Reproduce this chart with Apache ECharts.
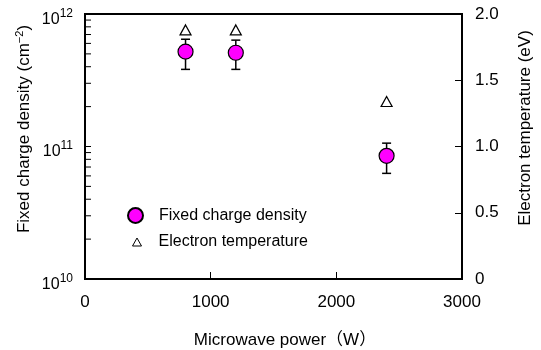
<!DOCTYPE html>
<html>
<head>
<meta charset="utf-8">
<script src="https://cdn.jsdelivr.net/npm/echarts@6/dist/echarts.min.js"></script>
<style>
  html, body { margin: 0; padding: 0; background: #fff; }
  #chart { width: 541px; height: 350px; }
</style>
</head>
<body>
<div id="chart"></div>
<script>
// data
var power = [800, 1200, 2400];                 // W
var density = [5.2e11, 5.1e11, 8.5e10];        // cm^-2
var densityHi = [6.45e11, 6.35e11, 1.06e11];
var densityLo = [3.82e11, 3.82e11, 6.27e10];
var temperature = [1.88, 1.88, 1.34];          // eV
var xTicks = [0, 1000, 2000, 3000];
var rightTicks = [0, 0.5, 1.0, 1.5, 2.0];
var logMinorTicks = [2e10, 3e10, 4e10, 5e10, 6e10, 7e10, 8e10, 9e10,
                     2e11, 3e11, 4e11, 5e11, 6e11, 7e11, 8e11, 9e11];

var font = 'Liberation Sans, Arial, Noto Sans CJK JP, sans-serif';

var densityData = power.map(function (p, i) { return [p, density[i]]; });
var errorData = power.map(function (p, i) { return [p, densityLo[i], densityHi[i]]; });
var tempData = power.map(function (p, i) { return [p, temperature[i]]; });
var minorData = logMinorTicks.map(function (v) { return [xTicks[0], v]; });

var myChart = echarts.init(document.getElementById('chart'));
myChart.setOption({
  animation: false,
  textStyle: { fontFamily: font, color: '#000' },
  grid: {
    left: 85, right: 79, top: 14, bottom: 71,
    show: true, borderColor: '#000', borderWidth: 2, backgroundColor: '#fff'
  },
  legend: [{
    data: ['Fixed charge density'],
    left: 127, top: 207, padding: 0,
    itemWidth: 15, itemHeight: 15,
    textStyle: { fontSize: 16, fontFamily: font, color: '#000', padding: [0, 0, 0, 11] }
  }, {
    data: ['Electron temperature'],
    left: 132, top: 234, padding: 0,
    itemWidth: 9, itemHeight: 8,
    itemStyle: { borderWidth: 1 },
    textStyle: { fontSize: 16, fontFamily: font, color: '#000', padding: [0, 0, 0, 12] }
  }],
  xAxis: {
    type: 'value',
    min: xTicks[0], max: xTicks[xTicks.length - 1], interval: 1000,
    axisLine: { show: false },
    axisTick: { inside: true, length: 7, lineStyle: { color: '#000', width: 1 } },
    axisLabel: {
      fontSize: 17, color: '#000', margin: 15,
      formatter: function (v) { return String(v); }
    },
    splitLine: { show: false }
  },
  yAxis: [{
    type: 'log', logBase: 10,
    min: 1e10, max: 1e12,
    axisLine: { show: false },
    axisTick: { inside: true, length: 6, lineStyle: { color: '#000', width: 1 } },
    axisLabel: {
      margin: 12, padding: [7, 0, 0, 0],
      formatter: function (v) {
        return '{b|10}{s|' + Math.round(Math.log10(v)) + '}';
      },
      rich: {
        b: { fontSize: 16, fontFamily: font, color: '#000', lineHeight: 20, verticalAlign: 'bottom' },
        s: { fontSize: 12, fontFamily: font, color: '#000', lineHeight: 20, verticalAlign: 'top', padding: [0, 0, 7, 0] }
      }
    },
    splitLine: { show: false }
  }, {
    type: 'value',
    min: rightTicks[0], max: rightTicks[rightTicks.length - 1], interval: 0.5,
    position: 'right',
    axisLine: { show: false },
    axisTick: { inside: true, length: 7, lineStyle: { color: '#000', width: 1 } },
    axisLabel: {
      fontSize: 17, color: '#000', margin: 13, padding: [7, 0, 0, 0],
      formatter: function (v) { return v === 0 ? '0' : v.toFixed(1); }
    },
    splitLine: { show: false }
  }],
  graphic: [{
    type: 'text', x: 24, y: 129, rotation: Math.PI / 2,
    style: {
      text: 'Fixed charge density (cm{s|−2})',
      font: '17px ' + font, fill: '#000', align: 'center', verticalAlign: 'middle',
      rich: { s: { fontSize: 11, fontFamily: font, fill: '#000', verticalAlign: 'top', padding: [0, 0, 8, 0] } }
    }
  }, {
    type: 'text', x: 525, y: 128, rotation: Math.PI / 2,
    style: {
      text: 'Electron temperature (eV)',
      font: '17px ' + font, fill: '#000', align: 'center', verticalAlign: 'middle'
    }
  }, {
    type: 'text', x: 285, y: 340,
    style: {
      text: 'Microwave power（W）',
      font: '17px ' + font, fill: '#000', align: 'center', verticalAlign: 'middle'
    }
  }],
  series: [{
    // minor ticks of the log axis
    type: 'custom', silent: true, xAxisIndex: 0, yAxisIndex: 0,
    data: minorData,
    renderItem: function (params, api) {
      var p = api.coord([api.value(0), api.value(1)]);
      return {
        type: 'line',
        shape: { x1: p[0], y1: p[1], x2: p[0] + 6, y2: p[1] },
        style: { stroke: '#000', lineWidth: 1 }
      };
    },
    z: 3
  }, {
    // error bars
    type: 'custom', silent: true, xAxisIndex: 0, yAxisIndex: 0,
    data: errorData,
    renderItem: function (params, api) {
      var lo = api.coord([api.value(0), api.value(1)]);
      var hi = api.coord([api.value(0), api.value(2)]);
      var w = 4.5;
      var st = { stroke: '#000', lineWidth: 1.5 };
      return {
        type: 'group',
        children: [
          { type: 'line', shape: { x1: lo[0], y1: lo[1], x2: hi[0], y2: hi[1] }, style: st },
          { type: 'line', shape: { x1: lo[0] - w, y1: lo[1], x2: lo[0] + w, y2: lo[1] }, style: st },
          { type: 'line', shape: { x1: hi[0] - w, y1: hi[1], x2: hi[0] + w, y2: hi[1] }, style: st }
        ]
      };
    },
    z: 3
  }, {
    name: 'Fixed charge density',
    type: 'scatter', xAxisIndex: 0, yAxisIndex: 0,
    data: densityData,
    symbol: 'circle', symbolSize: 15,
    itemStyle: { color: '#ff00ff', borderColor: '#000', borderWidth: 1.2, opacity: 1 },
    z: 4
  }, {
    name: 'Electron temperature',
    type: 'scatter', xAxisIndex: 0, yAxisIndex: 1,
    data: tempData,
    symbol: 'triangle', symbolSize: [11, 10],
    itemStyle: { color: '#fff', borderColor: '#000', borderWidth: 1.2, opacity: 1 },
    z: 4
  }]
});
</script>
</body>
</html>
